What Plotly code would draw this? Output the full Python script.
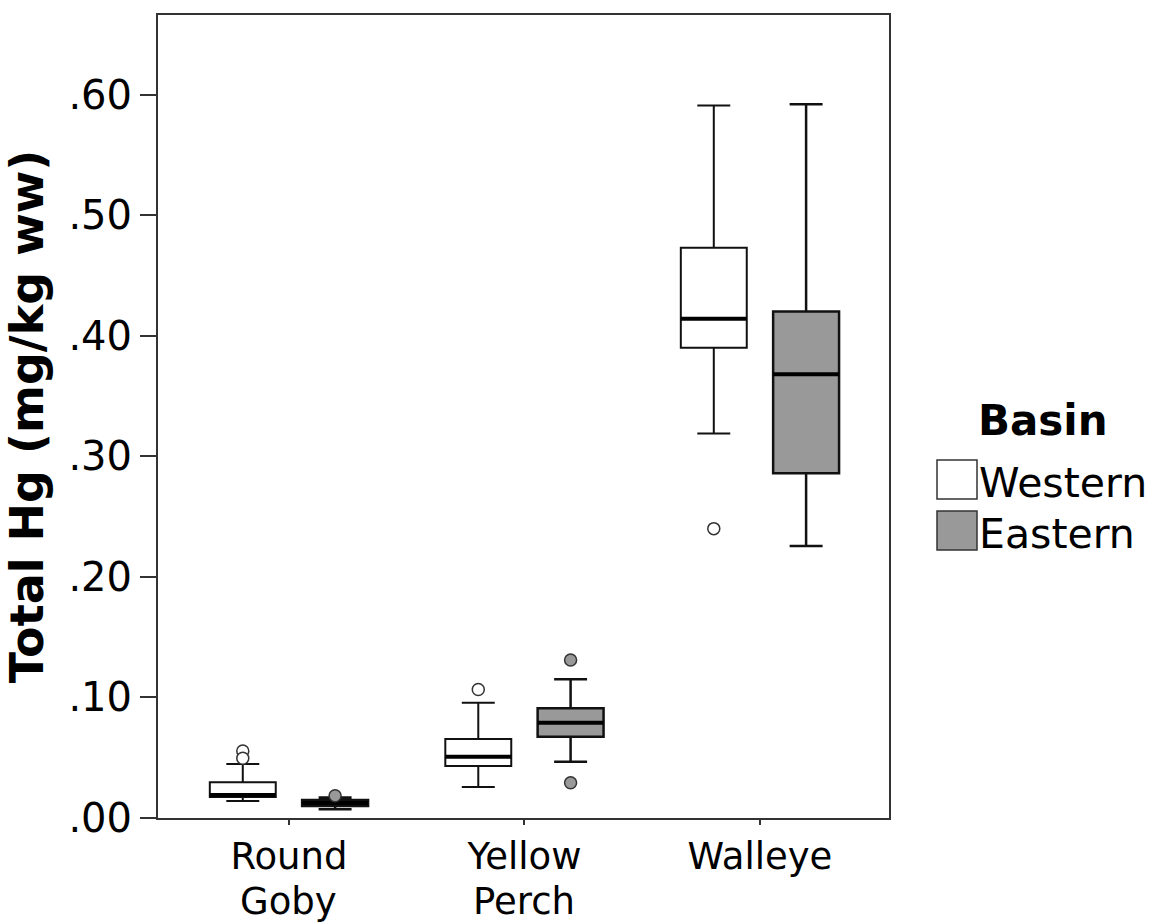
import plotly.graph_objects as go

# ---------------- data ----------------
species = ["Round Goby", "Yellow Perch", "Walleye"]
label_line1 = ["Round", "Yellow", "Walleye"]
label_line2 = ["Goby", "Perch", ""]

basins = ["Western", "Eastern"]

western_lower = [0.0140, 0.0257, 0.319]
western_q1 = [0.0174, 0.0431, 0.390]
western_median = [0.0190, 0.0508, 0.414]
western_q3 = [0.0297, 0.0655, 0.473]
western_upper = [0.0448, 0.0956, 0.591]
western_out_species = ["Round Goby", "Round Goby", "Yellow Perch", "Walleye"]
western_out_values = [0.0555, 0.0495, 0.1066, 0.2400]

eastern_lower = [0.0072, 0.0467, 0.2255]
eastern_q1 = [0.0100, 0.0674, 0.286]
eastern_median = [0.0124, 0.0790, 0.368]
eastern_q3 = [0.0149, 0.0910, 0.420]
eastern_upper = [0.0170, 0.1150, 0.592]
eastern_out_species = ["Round Goby", "Yellow Perch", "Yellow Perch"]
eastern_out_values = [0.0184, 0.1310, 0.0293]

y_tickvals = [0.0, 0.1, 0.2, 0.3, 0.4, 0.5, 0.6]
y_ticktext = [".00", ".10", ".20", ".30", ".40", ".50", ".60"]

# ---------------- styling / layout constants ----------------
W, H = 1152, 924
ML, MR, MT, MB = 158, 263, 15, 106
OFFSET = 0.196
BOX_W = 0.28
FONT = "DejaVu Sans"
fill = {"Western": "#ffffff", "Eastern": "#999999"}
offs = {"Western": -OFFSET, "Eastern": OFFSET}
whisk_w = {"Western": 2, "Eastern": 2.5}

stats = {
    "Western": (western_lower, western_q1, western_median, western_q3, western_upper,
                western_out_species, western_out_values),
    "Eastern": (eastern_lower, eastern_q1, eastern_median, eastern_q3, eastern_upper,
                eastern_out_species, eastern_out_values),
}

fig = go.Figure()
for b in basins:
    lo, q1, med, q3, up, osp, oval = stats[b]
    pos = [i + offs[b] for i in range(len(species))]
    fig.add_trace(go.Box(
        name=b, x=pos, q1=q1, median=med, q3=q3, lowerfence=lo, upperfence=up,
        width=BOX_W, whiskerwidth=0.5, boxpoints=False,
        fillcolor=fill[b], line=dict(color="#111111", width=whisk_w[b]),
        showlegend=False, hoverinfo="skip",
    ))
    # thicker median line
    mx, my = [], []
    for p, m in zip(pos, med):
        mx += [p - BOX_W / 2, p + BOX_W / 2, None]
        my += [m, m, None]
    fig.add_trace(go.Scatter(x=mx, y=my, mode="lines",
                             line=dict(color="#000000", width=4),
                             showlegend=False, hoverinfo="skip"))
    # outliers
    ox = [species.index(s) + offs[b] for s in osp]
    fig.add_trace(go.Scatter(x=ox, y=oval, mode="markers",
                             marker=dict(symbol="circle", size=12, color=fill[b],
                                         line=dict(color="#333333", width=1.5)),
                             showlegend=False, hoverinfo="skip"))

plot_w = W - ML - MR
plot_h = H - MT - MB


def px(x):
    return (x - ML) / plot_w


def py(y):
    return (H - MB - y) / plot_h


# legend drawn manually (large square swatches like the source)
shapes = []
annotations = []
for b, (top, bot, mid) in zip(basins, [(460, 499, 483), (511, 550, 534)]):
    shapes.append(dict(type="rect", xref="paper", yref="paper",
                       x0=px(937), x1=px(977), y0=py(bot), y1=py(top),
                       fillcolor=fill[b], line=dict(color="#333333", width=1.5)))
    annotations.append(dict(text=b, xref="paper", yref="paper", x=px(977), y=py(mid),
                            xanchor="left", yanchor="middle", showarrow=False,
                            font=dict(family=FONT, size=41, color="#000")))
annotations.append(dict(text="<b>Basin</b>", xref="paper", yref="paper", x=px(1043), y=py(420),
                        xanchor="center", yanchor="middle", showarrow=False,
                        font=dict(family=FONT, size=42, color="#000")))
# second line of category labels
for i, t in enumerate(label_line2):
    if t:
        annotations.append(dict(text=t, xref="x", yref="paper", x=i, y=py(901),
                                xanchor="center", yanchor="middle", showarrow=False,
                                font=dict(family=FONT, size=37, color="#000")))

fig.update_layout(
    width=W, height=H,
    margin=dict(l=ML, r=MR, t=MT, b=MB, autoexpand=False),
    paper_bgcolor="white", plot_bgcolor="white",
    font=dict(family=FONT, color="#000"),
    shapes=shapes, annotations=annotations,
    showlegend=False,
)
fig.update_xaxes(
    range=[-0.556, 2.548], tickmode="array", tickvals=list(range(len(species))),
    ticktext=label_line1, tickfont=dict(size=37, family=FONT, color="#000"),
    ticks="outside", ticklen=5, tickwidth=1.5, tickcolor="#333",
    showline=True, linecolor="#333", linewidth=2, mirror=True,
    showgrid=False, zeroline=False, fixedrange=True,
)
fig.update_yaxes(
    range=[0, 0.666], tickmode="array", tickvals=y_tickvals, ticktext=y_ticktext,
    tickfont=dict(size=40, family=FONT, color="#000"),
    ticks="outside", ticklen=16, tickwidth=1.5, tickcolor="#333",
    showline=True, linecolor="#333", linewidth=2, mirror=True,
    showgrid=False, zeroline=False, fixedrange=True,
    title=dict(text="<b>Total Hg (mg/kg ww)</b>", font=dict(size=46, family=FONT, color="#000"),
               standoff=12),
)

fig.write_html("out.html")
